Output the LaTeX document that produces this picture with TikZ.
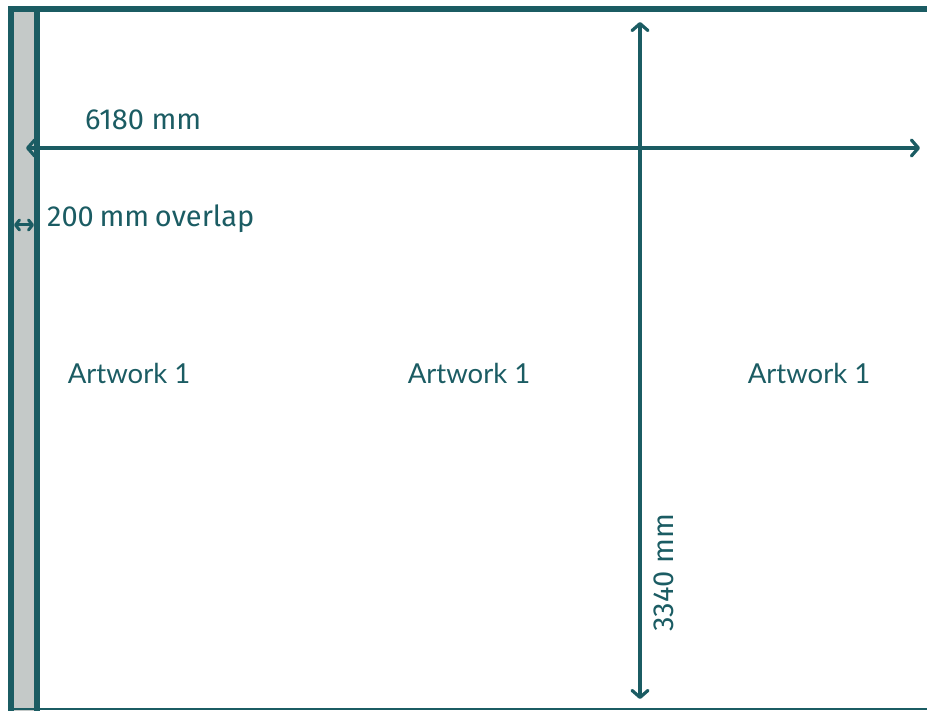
\documentclass[tikz,border=0pt]{standalone}
\usepackage{fontspec}
\setmainfont{Fira Sans}
\newfontfamily\artfont{Lato}
\usetikzlibrary{arrows.meta}
\definecolor{teal1}{HTML}{1B5C63}
\definecolor{strip}{HTML}{C4C9C8}
\tikzset{
  dim/.style={draw=teal1, line width=3.2pt, line cap=round,
    arrows={Straight Barb[round,length=7pt,width=16pt]-Straight Barb[round,length=7pt,width=16pt]}},
  smalldim/.style={draw=teal1, line width=3pt,
    arrows={Straight Barb[round,length=4pt,width=10pt]-Straight Barb[round,length=4pt,width=10pt]}},
  lbl/.style={text=teal1, inner sep=0pt, font=\fontsize{29}{34}\selectfont},
  art/.style={text=teal1, inner sep=0pt, font=\artfont\fontsize{27.5}{32}\selectfont}
}
\begin{document}
\begin{tikzpicture}[x=1pt,y=-1pt]
\useasboundingbox (0,0) rectangle (927,711);
% strip and frame
\fill[strip] (14,12) rectangle (34,711);
\fill[teal1] (8,6) rectangle (927,12);
\fill[teal1] (8,6) rectangle (14,711);
\fill[teal1] (34,12) rectangle (40,711);
\fill[teal1] (8,708) rectangle (927,710);
% dimension endpoints
\coordinate (hl) at (26,148);
\coordinate (hr) at (920,148);
\coordinate (vt) at (640,22);
\coordinate (vb) at (640,699);
\coordinate (ol) at (14,225);
\coordinate (or) at (34,225);
\draw[dim] (hl) -- (hr);
\draw[dim] (vt) -- (vb);
\draw[smalldim] (ol) -- (or);
% labels
\node[lbl, anchor=base west] (w) at (85,130) {6180 mm};
\node[lbl, anchor=base west] (ov) at (47,227) {200\hspace{-2pt} mm\hspace{-2pt} overlap};
\node[lbl, anchor=base west, rotate=90] (h) at (673,632) {3340 mm};
\node[art, anchor=base] (a1) at (129,384) {Artwork 1};
\node[art, anchor=base] (a2) at (469,384) {Artwork 1};
\node[art, anchor=base] (a3) at (809,384) {Artwork 1};
\end{tikzpicture}
\end{document}
